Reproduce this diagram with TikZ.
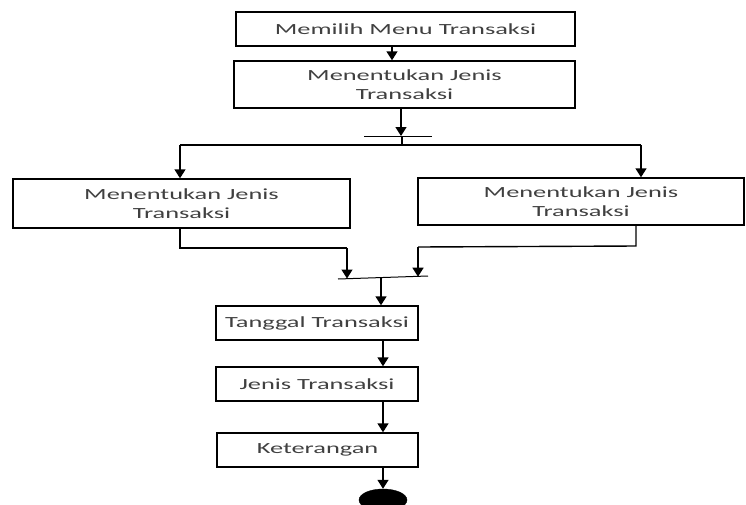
\documentclass[tikz,border=0pt]{standalone}
\usepackage{fontspec}
\setmainfont{Carlito}[FakeStretch=1.7]
\usetikzlibrary{arrows.meta,shapes.geometric}
\begin{document}
\begin{tikzpicture}[x=1pt,y=-1pt,
  box/.style={draw,line width=1.4pt,inner sep=0pt,align=center,font=\fontsize{15.5}{19}\selectfont,text=black!75},
  ln/.style={line width=1.4pt},
  arr/.style={line width=1.4pt,-{Triangle[width=11pt,length=9pt]}},
  thinln/.style={line width=1pt}]
\useasboundingbox (0,0) rectangle (746,504);
% boxes
\node[box,minimum width=339pt,minimum height=34pt] (b1) at (405.5,29) {Memilih Menu Transaksi};
\node[box,minimum width=341pt,minimum height=47pt] (b2) at (404.5,84.5) {Menentukan Jenis\\Transaksi};
\node[box,minimum width=337pt,minimum height=49pt] (L) at (181.5,203.5) {Menentukan Jenis\\Transaksi};
\node[box,minimum width=326pt,minimum height=47pt] (R) at (581,201.5) {Menentukan Jenis\\Transaksi};
\node[box,minimum width=202pt,minimum height=34pt] (t1) at (317,323) {Tanggal Transaksi};
\node[box,minimum width=202pt,minimum height=34pt] (t2) at (317,384) {Jenis Transaksi};
\node[box,minimum width=201pt,minimum height=34pt] (t3) at (317.5,450) {Keterangan};
\node[draw,fill=black,ellipse,minimum width=48pt,minimum height=22pt,inner sep=0pt] (end) at (383,500) {};
% helper coordinates
\coordinate (xa) at (392,0);
\coordinate (xb) at (401,0);
\coordinate (bar1) at (401,136);
\coordinate (bar1l) at (364,136);
\coordinate (bar1r) at (432,136);
\coordinate (fork) at (402,145);
\coordinate (forkl) at (180,145);
\coordinate (forkr) at (641,145);
\coordinate (lk) at (180,248);
\coordinate (lk2) at (347,248);
\coordinate (rk) at (636,246);
\coordinate (rk2) at (418,247);
\coordinate (bar2l) at (338,279);
\coordinate (bar2r) at (428,276);
\coordinate (bar2) at (347,278.5);
\coordinate (bar2b) at (418,276.7);
\coordinate (j) at (381,277.8);
\coordinate (xc) at (383,0);
% connectors
\draw[arr] (b1.south -| xa) -- (b2.north -| xa);
\draw[arr] (b2.south -| xb) -- (bar1);
\draw[thinln] (bar1l) -- (bar1r);
\draw[ln] (bar1 -| fork) -- (fork);
\draw[ln] (forkl) -- (forkr);
\draw[arr] (forkl) -- (L.north -| forkl);
\draw[arr] (forkr) -- (R.north -| forkr);
\draw[ln] (L.south -| lk) -- (lk) -- (lk2);
\draw[arr] (lk2) -- (bar2);
\draw[ln] (R.south -| rk) -- (rk) -- (rk2);
\draw[arr] (rk2) -- (bar2b);
\draw[thinln] (bar2l) -- (bar2r);
\draw[arr] (j) -- (t1.north -| j);
\draw[arr] (t1.south -| xc) -- (t2.north -| xc);
\draw[arr] (t2.south -| xc) -- (t3.north -| xc);
\draw[arr] (t3.south -| xc) -- (end.north);
\end{tikzpicture}
\end{document}
